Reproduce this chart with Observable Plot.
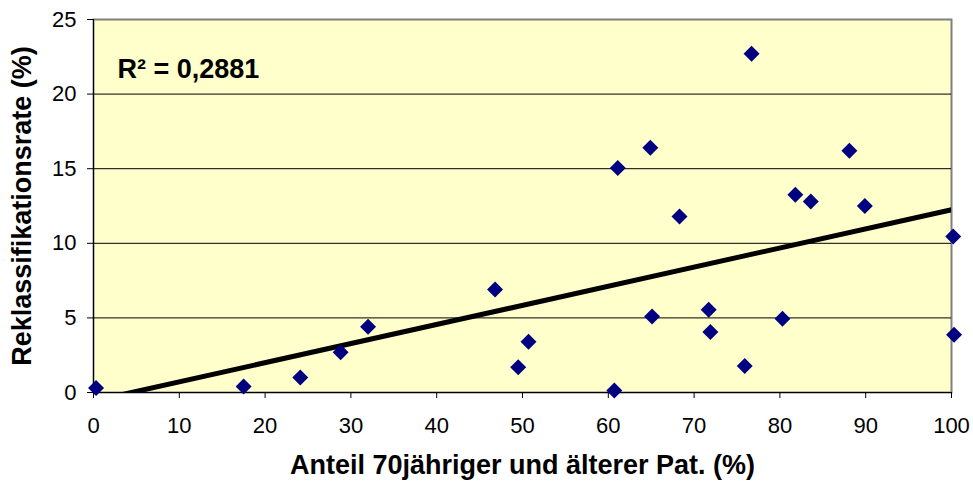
<!DOCTYPE html>
<html>
<head>
<meta charset="utf-8">
<script src="https://cdn.jsdelivr.net/npm/d3@7"></script>
<script src="https://cdn.jsdelivr.net/npm/@observablehq/plot@0.6"></script>
<style>
  html, body { margin: 0; padding: 0; background: #fff; }
  #chart svg { display: block; }
</style>
</head>
<body>
<div id="chart"></div>
<script>
const xValues = [0.3, 17.5, 24.1, 28.8, 32.0, 46.8, 49.5, 50.7, 60.7, 61.1, 64.9, 65.1, 68.3, 71.7, 71.9, 75.9, 76.7, 80.3, 81.8, 83.6, 88.1, 89.9, 100.2, 100.3];
const yValues = [0.3, 0.4, 1.0, 2.7, 4.4, 6.9, 1.7, 3.4, 0.13, 15.05, 16.4, 5.1, 11.8, 5.55, 4.05, 1.77, 22.7, 4.95, 13.25, 12.8, 16.2, 12.5, 10.45, 3.87];
const xTicks = [0, 10, 20, 30, 40, 50, 60, 70, 80, 90, 100];
const yTicks = [0, 5, 10, 15, 20, 25];
const gridTicks = [5, 10, 15, 20];
const xTitle = "Anteil 70jähriger und älterer Pat. (%)";
const yTitle = "Reklassifikationsrate (%)";
const r2Label = "R² = 0,2881";

const data = xValues.map((x, i) => ({x, y: yValues[i]}));

const chart = Plot.plot({
  width: 973,
  height: 487,
  marginLeft: 93,
  marginRight: 22,
  marginTop: 19,
  marginBottom: 95,
  style: {fontFamily: "'Liberation Sans', Arial, sans-serif", fontSize: "22px", color: "#000", background: "#fff"},
  x: {domain: [0, 100]},
  y: {domain: [0, 25]},
  marks: [
    Plot.frame({fill: "#FFFFCC", stroke: "#808080", strokeWidth: 2}),
    Plot.gridY(gridTicks, {stroke: "#000", strokeOpacity: 1, strokeWidth: 1}),
    Plot.ruleX([0], {stroke: "#000", strokeWidth: 1}),
    Plot.ruleY([0], {stroke: "#000", strokeWidth: 1}),
    Plot.axisX(xTicks, {tickSize: 6, tickPadding: 19, stroke: "#000", label: null, fontSize: 22}),
    Plot.axisY(yTicks, {tickSize: 6, tickPadding: 11, stroke: "#000", label: null, fontSize: 22}),
    Plot.linearRegressionY(data, {x: "x", y: "y", stroke: "#000", strokeWidth: 5, ci: 0, clip: true}),
    Plot.dot(data, {x: "x", y: "y", symbol: "diamond2", r: 7.2, fill: "#000080", stroke: "none"}),
    Plot.text([r2Label], {text: d => d, frameAnchor: "top-left", dx: 24, dy: 39, textAnchor: "start", fontSize: 27, fontWeight: "bold", fill: "#000"}),
    Plot.text([yTitle], {text: d => d, frameAnchor: "left", rotate: -90, dx: -71, textAnchor: "middle", fontSize: 27, fontWeight: "bold", fill: "#000"}),
    Plot.text([xTitle], {text: d => d, frameAnchor: "bottom", dy: 81, textAnchor: "middle", fontSize: 27, fontWeight: "bold", fill: "#000"})
  ]
});
document.getElementById("chart").appendChild(chart);
</script>
</body>
</html>
